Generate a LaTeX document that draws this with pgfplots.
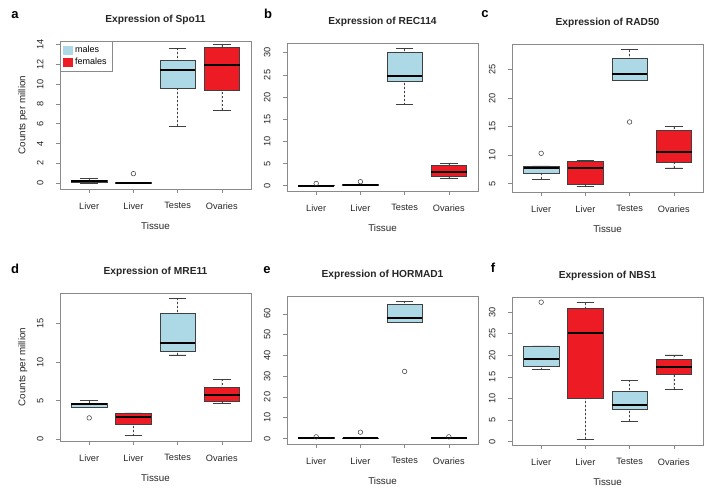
\documentclass[border=0pt]{standalone}
\usepackage{pgfplots}
\pgfplotsset{compat=1.18}
\usepgfplotslibrary{statistics}
\usepackage{fontspec}
\setmainfont{Liberation Sans}
\definecolor{lb}{HTML}{ADD8E6}
\definecolor{rd}{HTML}{ED1C24}
\definecolor{fr}{HTML}{8A8A8A}
\pgfplotsset{
  rbox/.style n args={6}{boxplot prepared={draw position=#1, lower whisker=#2, lower quartile=#3, median=#4, upper quartile=#5, upper whisker=#6, box extend=0.8, whisker extend=0.4}},
  bs/.style={draw=black!75, line width=0.6pt, fill=#1, mark=o, mark size=2.3pt, mark options={draw=black!80, fill=none, solid, line width=0.5pt},
    boxplot/draw direction=y,
    boxplot/every median/.style={line width=2pt, black},
    boxplot/draw/lower whisker/.code={
      \draw[black!75, line width=0.6pt, dash pattern=on 2pt off 2pt] (boxplot cs:\pgfplotsboxplotvalue{lower whisker}) -- (boxplot cs:\pgfplotsboxplotvalue{lower quartile});
      \draw[black!75, line width=0.6pt] (boxplot whisker cs:\pgfplotsboxplotvalue{lower whisker},0) -- (boxplot whisker cs:\pgfplotsboxplotvalue{lower whisker},1);},
    boxplot/draw/upper whisker/.code={
      \draw[black!75, line width=0.6pt, dash pattern=on 2pt off 2pt] (boxplot cs:\pgfplotsboxplotvalue{upper whisker}) -- (boxplot cs:\pgfplotsboxplotvalue{upper quartile});
      \draw[black!75, line width=0.6pt] (boxplot whisker cs:\pgfplotsboxplotvalue{upper whisker},0) -- (boxplot whisker cs:\pgfplotsboxplotvalue{upper whisker},1);},
  },
  panel/.style={
    scale only axis, width=191pt, height=148pt, anchor=south west,
    xmin=0.34, xmax=4.66, xtick={1,2,3,4}, xticklabels={Liver,Liver,Testes,Ovaries},
    tick align=outside, major tick length=4pt, xtick pos=bottom, ytick pos=left,
    axis line style={fr, line width=0.6pt}, tick style={fr, line width=0.6pt},
    /pgf/number format/assume math mode=true,
    ticklabel style={font=\fontsize{9.2}{11}\selectfont, text=black!85},
    yticklabel style={rotate=90, anchor=south, yshift=9pt},
    xticklabel style={yshift=-6pt},
    xlabel=Tissue,
    xlabel style={at={(axis description cs:0.5,-0.25)}, anchor=center, font=\fontsize{9.8}{12}\selectfont, text=black!85},
    ylabel style={at={(axis description cs:-0.194,0.5)}, anchor=center, font=\fontsize{9.8}{12}\selectfont, text=black!85},
    title style={at={(axis description cs:0.5,1)}, anchor=center, yshift=15pt, font=\bfseries\fontsize{10.2}{12}\selectfont, text=black!85},
    yticklabel style={/pgf/number format/fixed},
  },
}
\begin{document}
\begin{tikzpicture}
\useasboundingbox (0,0) rectangle (715pt,495pt);
\tikzset{lab/.style={font=\bfseries\fontsize{13}{15}\selectfont, anchor=center}}
\node[lab] at (15pt,480pt) {a};
\node[lab] at (268pt,481pt) {b};
\node[lab] at (485pt,481pt) {c};
\node[lab] at (15pt,226pt) {d};
\node[lab] at (267pt,225pt) {e};
\node[lab] at (493pt,227pt) {f};

% a
\begin{axis}[panel, at={(60pt,306pt)}, ymin=-0.6, ymax=14.35, ytick={0,2,...,14},
  title={Expression of Spo11}, ylabel={Counts per million},
  legend style={at={(0,1)}, anchor=north west, draw=fr, font=\fontsize{9}{10}\selectfont, inner xsep=3pt, inner ysep=3pt, row sep=0pt, legend cell align=left,
    nodes={inner xsep=3pt}}]
\addlegendimage{legend image code/.code={\fill[lb] (0pt,-4pt) rectangle (8.5pt,4pt);}}
\addlegendentry{males}
\addlegendimage{legend image code/.code={\fill[rd] (0pt,-4pt) rectangle (8.5pt,4pt);}}
\addlegendentry{females}
\addplot[bs=lb, rbox={1}{0.0}{0.03}{0.17}{0.3}{0.5}] coordinates {};
\addplot[bs=rd, rbox={2}{0.0}{0.0}{0.01}{0.03}{0.05}] coordinates {(0,0.95)};
\addplot[bs=lb, rbox={3}{5.73}{9.56}{11.42}{12.44}{13.63}] coordinates {};
\addplot[bs=rd, rbox={4}{7.36}{9.39}{11.97}{13.69}{13.97}] coordinates {};
\end{axis}

% b
\begin{axis}[panel, at={(287pt,304pt)}, ymin=-1.2, ymax=32.2, ytick={0,5,...,30},
  title={Expression of REC114}]
\addplot[bs=lb, rbox={1}{0.0}{0.0}{0.02}{0.08}{0.1}] coordinates {(0,0.5)};
\addplot[bs=rd, rbox={2}{0.05}{0.08}{0.2}{0.3}{0.35}] coordinates {(0,0.9)};
\addplot[bs=lb, rbox={3}{18.3}{23.5}{24.8}{30.0}{30.9}] coordinates {};
\addplot[bs=rd, rbox={4}{1.65}{2.2}{3.15}{4.5}{5.0}] coordinates {};
\end{axis}

% c
\begin{axis}[panel, at={(512pt,303pt)}, ymin=3.5, ymax=29.5, ytick={5,10,...,25},
  title={Expression of RAD50}]
\addplot[bs=lb, rbox={1}{5.7}{6.7}{7.63}{8.1}{8.1}] coordinates {(0,10.3)};
\addplot[bs=rd, rbox={2}{4.5}{4.9}{7.75}{8.9}{9.0}] coordinates {};
\addplot[bs=lb, rbox={3}{23.2}{23.2}{24.2}{27.0}{28.5}] coordinates {(0,15.8)};
\addplot[bs=rd, rbox={4}{7.75}{8.7}{10.5}{14.3}{15.0}] coordinates {};
\end{axis}

% d
\begin{axis}[panel, at={(60pt,54pt)}, ymin=-0.23, ymax=19.0, ytick={0,5,10,15},
  title={Expression of MRE11}, ylabel={Counts per million}]
\addplot[bs=lb, rbox={1}{4.2}{4.2}{4.64}{4.73}{5.03}] coordinates {(0,2.77)};
\addplot[bs=rd, rbox={2}{0.48}{2.0}{2.95}{3.4}{3.42}] coordinates {};
\addplot[bs=lb, rbox={3}{10.97}{11.44}{12.5}{16.4}{18.3}] coordinates {};
\addplot[bs=rd, rbox={4}{4.68}{4.9}{5.8}{6.7}{7.8}] coordinates {};
\end{axis}

% e
\begin{axis}[panel, at={(287pt,51pt)}, ymin=-2.64, ymax=68.6, ytick={0,10,...,60},
  title={Expression of HORMAD1}]
\addplot[bs=lb, rbox={1}{0.0}{0.05}{0.3}{0.5}{0.55}] coordinates {(0,0.8)};
\addplot[bs=rd, rbox={2}{0.0}{0.0}{0.1}{0.2}{0.25}] coordinates {(0,3.05)};
\addplot[bs=lb, rbox={3}{56.0}{56.0}{58.1}{64.4}{66.0}] coordinates {(0,32.3)};
\addplot[bs=rd, rbox={4}{0.05}{0.1}{0.3}{0.5}{0.55}] coordinates {(0,0.8)};
\end{axis}

% f
\begin{axis}[panel, at={(512pt,50pt)}, ymin=-0.75, ymax=33.5, ytick={0,5,...,30},
  title={Expression of NBS1}]
\addplot[bs=lb, rbox={1}{16.7}{17.5}{19.15}{22.2}{22.2}] coordinates {(0,32.3)};
\addplot[bs=rd, rbox={2}{0.54}{10.1}{25.1}{31.0}{32.2}] coordinates {};
\addplot[bs=lb, rbox={3}{4.7}{7.4}{8.55}{11.6}{14.2}] coordinates {};
\addplot[bs=rd, rbox={4}{12.1}{15.5}{17.2}{19.0}{20.1}] coordinates {};
\end{axis}
\end{tikzpicture}
\end{document}
